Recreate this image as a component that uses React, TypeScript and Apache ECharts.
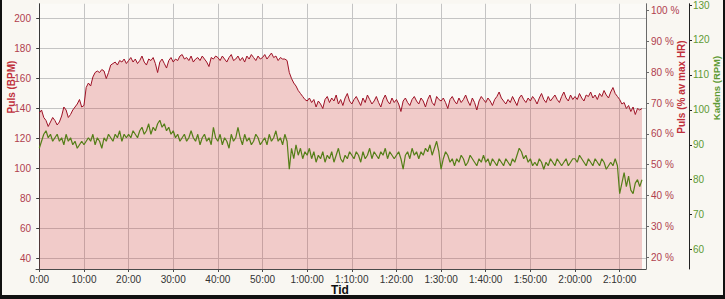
import React, { useEffect, useRef } from "react";
import * as echarts from "echarts";

// Sample spacing in minutes (time axis)
const SAMPLE_STEP_MIN = 0.5;

// Heart rate (BPM), one sample per half minute, 0:00 .. 2:15:00
const HR_BPM = [
  137,139,134,132,128,131,134,132,129,131,135,141,139,134,136,139,141,143,146,141,
  142,154,157,155,161,164,165,164,166,165,160,164,169,170,171,169,172,171,173,170,
  172,174,171,173,170,172,175,171,169,173,172,174,170,164,171,173,170,167,172,174,
  171,173,172,175,176,173,174,172,175,171,173,174,172,175,173,171,168,174,173,175,
  174,172,175,173,171,174,176,172,173,175,172,174,171,175,173,176,174,172,175,173,
  174,176,173,175,177,174,175,172,174,173,173,172,164,160,157,155,152,150,148,146,
  145,147,144,146,141,145,143,140,146,148,144,147,145,149,143,146,142,147,150,145,
  143,146,148,145,142,147,144,149,146,143,145,148,144,141,146,149,145,143,147,144,
  146,143,138,145,147,144,142,146,148,145,143,147,145,141,146,149,144,142,148,146,
  145,147,144,140,146,148,145,143,147,144,146,149,145,142,147,144,139,145,148,146,
  144,147,145,142,146,148,151,147,145,143,146,144,148,145,142,147,149,146,144,147,
  145,148,146,143,147,150,146,144,148,145,147,149,146,144,148,151,147,145,149,146,
  148,146,150,147,145,149,148,151,147,149,146,150,148,152,149,147,151,154,150,148,
  146,143,144,140,142,138,141,136,140,139,140,
];

// Cadence (RPM), same sampling
const CADENCE_RPM = [
  89,91,93,94,92,93,91,92,93,91,92,90,93,91,92,90,91,89,90,91,
  90,91,92,91,93,90,92,91,89,92,91,93,92,91,93,92,94,91,93,92,
  93,92,94,93,92,94,95,93,94,96,93,95,94,96,97,95,96,94,95,93,
  94,92,93,91,92,93,91,92,94,92,91,93,90,92,93,91,92,90,95,92,
  91,93,90,92,91,89,93,91,92,95,92,90,93,91,92,90,91,93,92,90,
  91,92,90,93,91,92,94,91,92,90,93,91,83,89,86,90,87,89,86,88,
  87,89,86,88,85,87,86,88,85,87,86,88,85,87,89,86,85,87,86,88,
  87,86,88,87,85,88,86,87,89,86,88,87,86,88,87,89,86,88,87,86,
  87,88,86,83,87,88,86,89,87,88,86,88,87,89,88,90,87,89,91,88,
  83,86,88,87,85,86,84,86,85,87,86,84,85,87,86,85,84,86,85,87,
  85,86,84,86,85,84,86,85,84,86,85,84,86,85,87,89,88,86,87,85,
  86,84,85,84,86,85,83,85,84,86,85,84,86,85,84,85,86,84,85,86,
  86,85,87,86,85,84,86,85,84,86,85,84,86,85,83,84,85,84,86,84,
  76,79,82,78,81,77,76,79,80,78,80,
];

// Axis ranges
const TIME_RANGE = [-0.74, 135.9];
const BPM_RANGE = [32.9, 209.9];
const PCT_RANGE = [16.16, 102.24];
const RPM_RANGE = [54.44, 130.36];

const TITLES = {
  x: "Tid",
  bpm: "Puls (BPM)",
  pct: "Puls (% av max HR)",
  rpm: "Kadens (RPM)",
};

const FONT = "'Liberation Sans', Arial, sans-serif";
const PAGE_BG = "#F9F7F2";
const GRID_LINE = "#C4C4C4";

function fmtTime(v: number): string {
  const m = Math.round(v);
  if (m <= 0) return "0:00";
  const h = Math.floor(m / 60);
  const mm = m % 60;
  if (h === 0) return `${mm}:00`;
  return `${h}:${mm < 10 ? "0" + mm : mm}:00`;
}

export default function App() {
  const ref = useRef<HTMLDivElement>(null);

  useEffect(() => {
    if (!ref.current) return;
    const chart = echarts.init(ref.current, undefined, { renderer: "svg" });

    const hrData = HR_BPM.map((v, i) => [i * SAMPLE_STEP_MIN, v]);
    const cadData = CADENCE_RPM.map((v, i) => [i * SAMPLE_STEP_MIN, v]);

    chart.setOption({
      animation: false,
      backgroundColor: PAGE_BG,
      grid: {
        left: 36,
        right: 79,
        top: 0,
        bottom: 30,
        show: true,
        backgroundColor: "#FBFAF7",
        borderWidth: 0,
      },
      xAxis: {
        type: "value",
        min: TIME_RANGE[0],
        max: TIME_RANGE[1],
        splitNumber: 14,
        axisLine: { show: true, lineStyle: { color: "#4a4a4a", width: 1 } },
        axisTick: { show: true, inside: false, length: 3, lineStyle: { color: "#4a4a4a" } },
        axisLabel: {
          showMinLabel: false,
          showMaxLabel: false,
          margin: 5,
          color: "#333333",
          fontSize: 10,
          fontFamily: FONT,
          formatter: (v: number) => fmtTime(v),
        },
        splitLine: {
          show: true,
          showMinLine: false,
          showMaxLine: false,
          lineStyle: { color: GRID_LINE, width: 1 },
        },
      },
      yAxis: [
        {
          type: "value",
          position: "left",
          offset: 0,
          min: BPM_RANGE[0],
          max: BPM_RANGE[1],
          splitNumber: 9,
          axisLine: { show: true, lineStyle: { color: "#3a3a3a", width: 1 } },
          axisTick: { show: true, inside: false, length: 3, lineStyle: { color: "#3a3a3a" } },
          axisLabel: {
            showMinLabel: false,
            showMaxLabel: false,
            margin: 5,
            color: "#B0404E",
            fontSize: 10,
            fontFamily: FONT,
          },
          splitLine: {
            show: true,
            showMinLine: false,
            showMaxLine: false,
            lineStyle: { color: GRID_LINE, width: 1 },
          },
        },
        {
          type: "value",
          position: "right",
          offset: 0,
          min: PCT_RANGE[0],
          max: PCT_RANGE[1],
          splitNumber: 9,
          axisLine: { show: true, lineStyle: { color: "#6a6a6a", width: 1 } },
          axisTick: { show: true, inside: false, length: 3, lineStyle: { color: "#6a6a6a" } },
          axisLabel: {
            showMinLabel: false,
            showMaxLabel: false,
            margin: 5,
            color: "#B0404E",
            fontSize: 10,
            fontFamily: FONT,
            formatter: "{value} %",
          },
          splitLine: { show: false },
        },
        {
          type: "value",
          position: "right",
          offset: 43,
          min: RPM_RANGE[0],
          max: RPM_RANGE[1],
          splitNumber: 8,
          axisLine: { show: true, lineStyle: { color: "#222222", width: 1 } },
          axisTick: { show: true, inside: false, length: 3, lineStyle: { color: "#222222" } },
          axisLabel: {
            showMinLabel: false,
            showMaxLabel: false,
            margin: 4,
            color: "#5E9A34",
            fontSize: 10,
            fontFamily: FONT,
          },
          splitLine: { show: false },
        },
      ],
      series: [
        {
          name: TITLES.bpm,
          type: "line",
          xAxisIndex: 0,
          yAxisIndex: 0,
          data: hrData,
          symbol: "none",
          lineStyle: { color: "#9E1226", width: 1 },
          areaStyle: { color: "rgba(210,55,55,0.34)", origin: "start" },
          z: 2,
        },
        {
          name: TITLES.rpm,
          type: "line",
          xAxisIndex: 0,
          yAxisIndex: 2,
          data: cadData,
          symbol: "none",
          lineStyle: { color: "#557F18", width: 1.2 },
          z: 3,
        },
      ],
      graphic: [
        {
          type: "text",
          x: 11,
          y: 87,
          rotation: Math.PI / 2,
          style: {
            text: TITLES.bpm,
            fill: "#C0303C",
            font: `bold 10px ${FONT}`,
            textAlign: "center",
            textVerticalAlign: "middle",
          },
        },
        {
          type: "text",
          x: 681,
          y: 87,
          rotation: Math.PI / 2,
          style: {
            text: TITLES.pct,
            fill: "#C0303C",
            font: `bold 10px ${FONT}`,
            textAlign: "center",
            textVerticalAlign: "middle",
          },
        },
        {
          type: "text",
          x: 716,
          y: 88,
          rotation: Math.PI / 2,
          style: {
            text: TITLES.rpm,
            fill: "#5E9A34",
            font: `bold 9.5px ${FONT}`,
            textAlign: "center",
            textVerticalAlign: "middle",
          },
        },
        {
          type: "text",
          x: 340,
          y: 290,
          style: {
            text: TITLES.x,
            fill: "#111111",
            font: `bold 12px ${FONT}`,
            textAlign: "center",
            textVerticalAlign: "middle",
          },
        },
        { type: "rect", shape: { x: 0, y: 0, width: 2, height: 299 }, style: { fill: "#111" }, z: 100 },
        { type: "rect", shape: { x: 0, y: 295, width: 725, height: 4 }, style: { fill: "#111" }, z: 100 },
        { type: "rect", shape: { x: 723, y: 0, width: 2, height: 299 }, style: { fill: "#111" }, z: 100 },
      ],
    });

    return () => chart.dispose();
  }, []);

  return (
    <div
      ref={ref}
      style={{ position: "fixed", left: 0, top: 0, width: 725, height: 299 }}
    />
  );
}
